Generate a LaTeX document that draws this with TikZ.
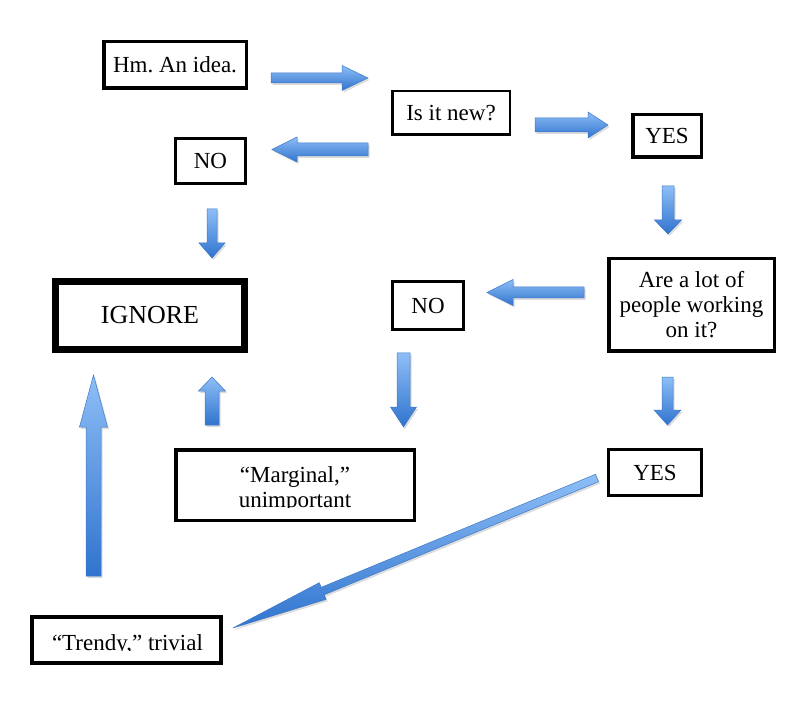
\documentclass[tikz,border=0pt]{standalone}
\usepackage{fontspec}
\setmainfont{Liberation Serif}
\usetikzlibrary{calc}
\definecolor{arrowlight}{RGB}{142,190,246}
\definecolor{arrowdark}{RGB}{48,116,206}
\definecolor{arrowedge}{RGB}{62,120,200}
\newcommand\blockarrow[5]{%
  \coordinate (bah) at ($(#2)!#5!(#1)$);
  \path[arrowbody] ($(#1)!#3!90:(#2)$) -- ($(bah)!#3!90:(#2)$) -- ($(bah)!#4!90:(#2)$) -- (#2)
    -- ($(bah)!#4!-90:(#2)$) -- ($(bah)!#3!-90:(#2)$) -- ($(#1)!#3!-90:(#2)$) -- cycle;}
\tikzset{
  txtfont/.style={font=\fontsize{23pt}{25pt}\selectfont\frenchspacing},
  box/.style={draw=black, line width=#1, fill=white, inner sep=0pt, align=center, txtfont},
  box/.default=3pt,
  plaintext/.style={inner sep=0pt, txtfont},
  arrowbody/.style={top color=arrowlight, bottom color=arrowdark, draw=arrowedge,
    line width=0.5pt, line join=miter,
    preaction={fill=black!45, opacity=0.3, transform canvas={xshift=1.5pt, yshift=-2pt}}}
}
\begin{document}
\begin{tikzpicture}[x=1pt, y=1pt]
\useasboundingbox (0,0) rectangle (800,705);
\fill[white] (0,0) rectangle (800,705);

% boxes
\node[box=3.5pt, minimum width=142.5pt, minimum height=46.5pt] (idea) at (175,640) {Hm. An idea.};
\node[box=2.5pt, minimum width=117.5pt, minimum height=43.5pt] (new) at (451,592) {Is it new?};
\node[box=3.5pt, minimum width=68.5pt, minimum height=42.5pt] (yes1) at (667,569) {YES};
\node[box=3pt, minimum width=70pt, minimum height=45pt] (no1) at (210.5,544) {NO};
\node[box=7pt, minimum width=189pt, minimum height=68pt, font=\fontsize{26pt}{30pt}\selectfont] (ignore) at (150,389.5) {IGNORE};
\node[box=3pt, minimum width=71pt, minimum height=48pt] (no2) at (428,399.5) {NO};
\node[box=3.5pt, minimum width=165.5pt, minimum height=92.5pt] (are) at (691.5,400) {Are a lot of\\people working\\on it?};
\node[box=3pt, minimum width=93pt, minimum height=46pt] (yes2) at (655,232.5) {YES};

\node[box=3.5pt, minimum width=238.5pt, minimum height=70.5pt] (marg) at (295,220) {};
\begin{scope}
  \clip (180,198) rectangle (410,250);
  \node[plaintext, anchor=base] (margA) at (295,223) {“Marginal,”};
  \node[plaintext, anchor=base] (margB) at (295,198) {unimportant};
\end{scope}

\node[box=4pt, minimum width=189pt, minimum height=46pt] (trendy) at (126.5,65) {};
\begin{scope}
  \clip (35,55) rectangle (218,85);
  \node[plaintext, anchor=base] (trendyA) at (127.5,55) {“Trendy,” trivial};
\end{scope}

% arrow end points
\coordinate (a1s) at (271,627);   \coordinate (a1e) at (368,627);
\coordinate (a2s) at (368,555.5); \coordinate (a2e) at (272,555.5);
\coordinate (a3s) at (535,580);   \coordinate (a3e) at (608,580);
\coordinate (a4s) at (668,519);   \coordinate (a4e) at (668,471);
\coordinate (a5s) at (584,412.5); \coordinate (a5e) at (487,412.5);
\coordinate (a6s) at (403.5,352); \coordinate (a6e) at (403.5,278);
\coordinate (a7s) at (667.5,328); \coordinate (a7e) at (667.5,280);
\coordinate (a8s) at (212,496);   \coordinate (a8e) at (212,447);
\coordinate (a9s) at (212,280);   \coordinate (a9e) at (212,328);
\coordinate (a10s) at (93.5,129); \coordinate (a10e) at (93.5,330);
\coordinate (a11s) at (597,227);  \coordinate (a11e) at (233,77);

\blockarrow{a1s}{a1e}{5pt}{12.5pt}{26pt}
\blockarrow{a2s}{a2e}{6.5pt}{12.5pt}{25pt}
\blockarrow{a3s}{a3e}{7pt}{13pt}{20pt}
\blockarrow{a4s}{a4e}{6pt}{13.5pt}{14pt}
\blockarrow{a5s}{a5e}{5.5pt}{13pt}{26pt}
\blockarrow{a6s}{a6e}{6.5pt}{13pt}{20pt}
\blockarrow{a7s}{a7e}{5.5pt}{13.5pt}{15pt}
\blockarrow{a8s}{a8e}{5pt}{13pt}{15pt}
\blockarrow{a9s}{a9e}{7pt}{13.5pt}{14pt}
\blockarrow{a10s}{a10e}{7.5pt}{14pt}{52pt}
\blockarrow{a11s}{a11e}{4pt}{9pt}{97pt}
\end{tikzpicture}
\end{document}
